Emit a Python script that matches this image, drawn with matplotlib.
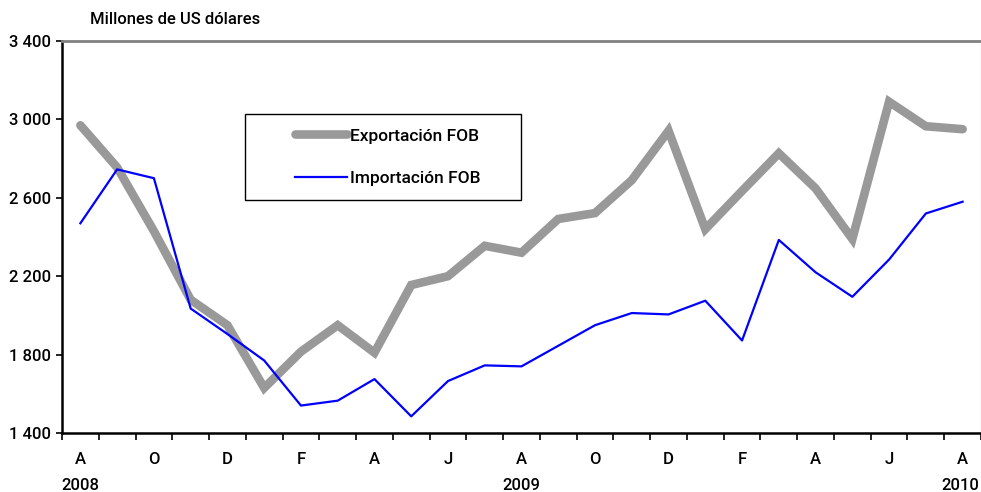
import matplotlib

matplotlib.use("Agg")
import matplotlib.pyplot as plt  # noqa: E402
from matplotlib.patches import Rectangle  # noqa: E402
from matplotlib.ticker import FixedLocator, FuncFormatter  # noqa: E402

FONT = ["Roboto", "DejaVu Sans"]
WEIGHT = "medium"
plt.rcParams["font.family"] = FONT
plt.rcParams["font.weight"] = WEIGHT

# Monthly values, Aug 2008 - Aug 2010 (millones de US dólares)
months = ["A", "S", "O", "N", "D", "E", "F", "M", "A", "M", "J", "J", "A",
          "S", "O", "N", "D", "E", "F", "M", "A", "M", "J", "J", "A"]
exportacion = [2970, 2755, 2430, 2080, 1950, 1630, 1815, 1950, 1810, 2155,
               2200, 2355, 2320, 2492, 2522, 2690, 2942, 2440, 2635, 2827,
               2648, 2390, 3090, 2965, 2950]
importacion = [2470, 2745, 2700, 2035, 1905, 1770, 1540, 1565, 1675, 1485,
               1665, 1745, 1740, 1845, 1950, 2012, 2005, 2075, 1872, 2385,
               2220, 2095, 2285, 2520, 2580]
years = {0: "2008", 12: "2009", 24: "2010"}
y_ticks = [1400, 1800, 2200, 2600, 3000, 3400]

fig = plt.figure(figsize=(9.81, 4.92), dpi=100)
ax = fig.add_axes([62 / 981, 1 - 433 / 492, 919 / 981, 392 / 492])

x = list(range(len(months)))
ax.plot(x, exportacion, color="#999999", linewidth=6.2, solid_capstyle="round",
        solid_joinstyle="miter", label="Exportación FOB", zorder=2)
ax.plot(x, importacion, color="#0000FF", linewidth=1.6,
        label="Importación FOB", zorder=3)

ax.set_xlim(-0.5, len(months) - 0.5)
ax.set_ylim(1400, 3400)

ax.yaxis.set_major_locator(FixedLocator(y_ticks))
ax.yaxis.set_major_formatter(FuncFormatter(lambda v, _: f"{int(v):,}".replace(",", " ")))
ax.tick_params(axis="y", direction="out", length=4, width=1.2, pad=4,
               labelsize=12, colors="black")

label_pos = x[::2]
ax.xaxis.set_major_locator(FixedLocator(label_pos))
ax.set_xticklabels([months[i] for i in label_pos])
ax.xaxis.set_minor_locator(FixedLocator([i - 0.5 for i in range(len(months) + 1)]))
ax.tick_params(axis="x", which="major", length=0, pad=14, labelsize=12)
ax.tick_params(axis="x", which="minor", direction="out", length=5, width=1.2)
for lbl in ax.get_xticklabels() + ax.get_yticklabels():
    lbl.set_fontweight(WEIGHT)

for i, yr in years.items():
    ha = "right" if i == len(months) - 1 else "center"
    xx = i + 0.45 if ha == "right" else i
    ax.text(xx, -0.134, yr, transform=ax.get_xaxis_transform(), ha=ha,
            va="center", fontsize=12, fontweight=WEIGHT)

ax.spines["left"].set_color("black")
ax.spines["left"].set_linewidth(1.8)
ax.spines["bottom"].set_color("black")
ax.spines["bottom"].set_linewidth(1.8)
ax.spines["top"].set_color("#808080")
ax.spines["top"].set_linewidth(2)
ax.spines["right"].set_color("#DDDDDD")
ax.spines["right"].set_linewidth(1)

ax.text(28 / 919, 1 + 21 / 392, "Millones de US dólares", transform=ax.transAxes,
        ha="left", va="center", fontsize=12, fontweight=WEIGHT)

# legend box
ax.add_patch(Rectangle((183 / 919, (433 - 200) / 392), 276 / 919, 86 / 392,
                       transform=ax.transAxes, fill=False, edgecolor="black",
                       linewidth=1, zorder=4))
ax.legend(loc="center left", bbox_to_anchor=(224 / 919, (433 - 157) / 392),
          frameon=False, handlelength=3.0, handletextpad=0.2, borderpad=0,
          labelspacing=1.55, prop={"family": FONT, "size": 12.5, "weight": WEIGHT})

fig.savefig("out.png", dpi=100, facecolor="white")
